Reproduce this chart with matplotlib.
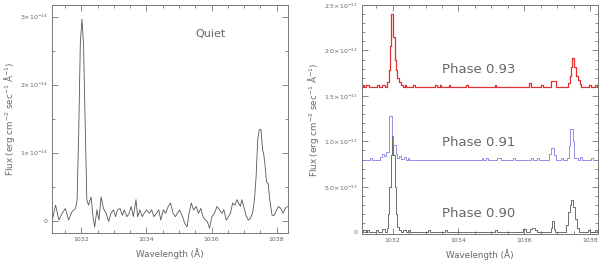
import matplotlib
matplotlib.use('Agg')
import matplotlib.pyplot as plt
from matplotlib.ticker import MultipleLocator

# quiet spectrum, flux in units of 1e-14
quiet_wave = [1031.10, 1031.21, 1031.31, 1031.41, 1031.51, 1031.61, 1031.71, 1031.82, 1031.87, 1031.92,
              1031.97, 1032.02, 1032.07, 1032.12, 1032.17, 1032.22, 1032.30, 1032.36, 1032.41, 1032.48,
              1032.54, 1032.61, 1032.68, 1032.76, 1032.84, 1032.91, 1032.99, 1033.05, 1033.11, 1033.19,
              1033.26, 1033.32, 1033.40, 1033.47, 1033.53, 1033.60, 1033.68, 1033.73, 1033.80, 1033.87,
              1033.93, 1034.01, 1034.08, 1034.16, 1034.23, 1034.31, 1034.38, 1034.44, 1034.52, 1034.59,
              1034.67, 1034.74, 1034.82, 1034.89, 1034.95, 1035.02, 1035.11, 1035.18, 1035.25, 1035.31,
              1035.38, 1035.45, 1035.53, 1035.60, 1035.67, 1035.74, 1035.81, 1035.87, 1035.94, 1036.01,
              1036.09, 1036.17, 1036.25, 1036.32, 1036.38, 1036.45, 1036.52, 1036.58, 1036.65, 1036.72,
              1036.78, 1036.83, 1036.89, 1036.93, 1036.99, 1037.06, 1037.13, 1037.19, 1037.26, 1037.32,
              1037.37, 1037.42, 1037.47, 1037.52, 1037.57, 1037.60, 1037.64, 1037.69, 1037.74, 1037.79,
              1037.86, 1037.93, 1038.00, 1038.06, 1038.13, 1038.20, 1038.26, 1038.33]
quiet_flux = [-0.01, 0.23, 0.01, 0.11, 0.18, 0.01, 0.13, 0.18, 0.30, 1.29,
              2.62, 2.96, 2.57, 1.39, 0.31, 0.23, 0.35, 0.06, -0.09, 0.16,
              0.01, 0.35, 0.18, 0.11, -0.01, 0.11, 0.16, 0.06, 0.16, 0.18,
              0.08, 0.16, 0.06, 0.11, 0.21, 0.06, 0.31, 0.06, 0.16, 0.06,
              0.11, 0.16, 0.11, 0.16, 0.06, 0.11, 0.16, 0.01, 0.16, 0.11,
              0.21, 0.26, 0.11, 0.06, 0.11, 0.16, 0.06, -0.04, -0.09, 0.11,
              0.26, 0.16, 0.21, 0.11, 0.18, 0.06, 0.01, -0.01, -0.11, 0.06,
              0.11, 0.21, 0.16, 0.11, 0.16, 0.01, 0.06, 0.11, 0.26, 0.23,
              0.31, 0.26, 0.21, 0.31, 0.21, 0.08, 0.01, 0.03, 0.11, 0.31,
              0.65, 1.19, 1.34, 1.34, 1.04, 0.99, 0.84, 0.57, 0.55, 0.31,
              0.08, 0.08, 0.16, 0.21, 0.18, 0.11, 0.18, 0.21]

# flare phases, bin edges (steps-post), flux in units of 1e-12
p90_wave = [1031.06, 1031.10, 1031.18, 1031.22, 1031.28, 1031.50, 1031.56, 1031.68, 1031.76, 1031.82,
            1031.86, 1031.90, 1031.94, 1031.98, 1032.02, 1032.06, 1032.10, 1032.14, 1032.20, 1032.26,
            1032.32, 1032.40, 1032.46, 1032.52, 1033.06, 1033.14, 1033.58, 1033.64, 1035.10, 1035.16,
            1035.96, 1036.04, 1036.18, 1036.24, 1036.34, 1036.40, 1036.80, 1036.84, 1036.90, 1036.94,
            1037.26, 1037.32, 1037.38, 1037.42, 1037.48, 1037.54, 1037.60, 1037.66, 1037.94, 1038.00,
            1038.16, 1038.22, 1038.30]
p90_flux = [0.0, 0.02, 0.0, 0.02, 0.0, 0.03, 0.0, 0.04, 0.0, 0.05,
            0.2, 0.5, 0.85, 1.06, 0.85, 0.5, 0.2, 0.06, 0.03, 0.0,
            0.02, 0.0, 0.02, 0.0, 0.02, 0.0, 0.02, 0.0, 0.02, 0.0,
            0.04, 0.0, 0.04, 0.05, 0.03, 0.0, 0.05, 0.12, 0.04, 0.0,
            0.08, 0.22, 0.30, 0.35, 0.28, 0.15, 0.05, 0.0, 0.02, 0.0,
            0.03, 0.0, 0.0]

p91_wave = [1031.06, 1031.30, 1031.38, 1031.60, 1031.66, 1031.74, 1031.80, 1031.88, 1031.99, 1032.02,
            1032.10, 1032.14, 1032.20, 1032.26, 1032.34, 1032.40, 1032.46, 1032.50, 1034.70, 1034.76,
            1034.84, 1034.90, 1035.16, 1035.30, 1035.66, 1035.72, 1036.20, 1036.26, 1036.40, 1036.46,
            1036.74, 1036.80, 1036.90, 1036.96, 1037.12, 1037.18, 1037.30, 1037.36, 1037.40, 1037.48,
            1037.52, 1037.62, 1037.70, 1037.76, 1038.04, 1038.10, 1038.30]
p91_flux = [0.80, 0.82, 0.80, 0.83, 0.86, 0.84, 0.88, 1.28, 1.05, 0.96,
            0.86, 0.82, 0.84, 0.81, 0.83, 0.80, 0.82, 0.80, 0.82, 0.80,
            0.82, 0.80, 0.82, 0.80, 0.82, 0.80, 0.82, 0.80, 0.82, 0.80,
            0.86, 0.93, 0.85, 0.80, 0.82, 0.80, 0.82, 0.95, 1.14, 1.00,
            0.82, 0.80, 0.83, 0.80, 0.82, 0.80, 0.80]

p93_wave = [1031.06, 1031.09, 1031.13, 1031.20, 1031.28, 1031.52, 1031.58, 1031.66, 1031.76, 1031.84,
            1031.88, 1031.92, 1031.96, 1032.02, 1032.06, 1032.10, 1032.14, 1032.18, 1032.24, 1032.30,
            1032.36, 1032.40, 1032.62, 1032.68, 1033.30, 1033.34, 1033.44, 1033.48, 1033.70, 1033.74,
            1034.24, 1034.28, 1035.10, 1035.14, 1036.14, 1036.22, 1036.52, 1036.58, 1036.80, 1036.96,
            1037.34, 1037.38, 1037.42, 1037.46, 1037.52, 1037.56, 1037.62, 1037.68, 1037.74, 1037.98,
            1038.04, 1038.16, 1038.22, 1038.30]
p93_flux = [1.60, 1.62, 1.60, 1.62, 1.60, 1.62, 1.60, 1.62, 1.60, 1.65,
            1.78, 2.05, 2.40, 2.15, 1.90, 1.78, 1.70, 1.65, 1.62, 1.60,
            1.62, 1.60, 1.62, 1.60, 1.62, 1.60, 1.62, 1.60, 1.62, 1.60,
            1.62, 1.60, 1.62, 1.60, 1.64, 1.60, 1.62, 1.60, 1.66, 1.60,
            1.64, 1.72, 1.82, 1.92, 1.82, 1.72, 1.68, 1.63, 1.60, 1.62,
            1.60, 1.62, 1.60, 1.60]

x_ticks = [1032, 1034, 1036, 1038]
left_yticks = [0, 1, 2, 3]
left_ylabels = ['0', r'$1{\times}10^{-14}$', r'$2{\times}10^{-14}$', r'$3{\times}10^{-14}$']
right_yticks = [0, 0.5, 1.0, 1.5, 2.0, 2.5]
right_ylabels = ['0', r'$5.0{\times}10^{-13}$', r'$1.0{\times}10^{-12}$', r'$1.5{\times}10^{-12}$',
                 r'$2.0{\times}10^{-12}$', r'$2.5{\times}10^{-12}$']

txt = '#666666'
plt.rcParams['mathtext.fontset'] = 'dejavusans'


def style_axes(ax, ylocminor, ylab_x):
    for s in ax.spines.values():
        s.set_color('#777777')
        s.set_linewidth(0.7)
    ax.xaxis.set_minor_locator(MultipleLocator(0.5))
    ax.yaxis.set_minor_locator(MultipleLocator(ylocminor))
    ax.tick_params(which='both', direction='in', top=True, right=True, colors='#777777',
                   labelcolor=txt, labelsize=4.5, width=0.6)
    ax.tick_params(which='major', length=4, pad=3)
    ax.tick_params(which='minor', length=2)
    ax.set_xticks(x_ticks)
    ax.set_xticklabels([str(t) for t in x_ticks])
    ax.set_xlabel('Wavelength (Å)', color=txt, fontsize=6.3, labelpad=4)
    ax.set_ylabel(r'Flux (erg cm$^{-2}$ sec$^{-1}$ Å$^{-1}$)', color=txt, fontsize=6.3)
    ax.yaxis.set_label_coords(ylab_x, 0.5)


fig = plt.figure(figsize=(6, 2.63), dpi=100)

ax1 = fig.add_axes([0.0867, 0.114, 0.3933, 0.867])
ax1.plot(quiet_wave, quiet_flux, color='#555555', lw=0.6)
ax1.set_xlim(1031.1, 1038.35)
ax1.set_ylim(-0.18, 3.17)
style_axes(ax1, 0.5, -0.148)
ax1.set_yticks(left_yticks)
ax1.set_yticklabels(left_ylabels)
ax1.text(1035.5, 2.75, 'Quiet', color=txt, fontsize=8, va='center')

ax2 = fig.add_axes([0.603, 0.110, 0.393, 0.871])
ax2.plot(p90_wave, p90_flux, color='#555555', lw=0.6, drawstyle='steps-post')
ax2.plot(p91_wave, p91_flux, color='#8080e0', lw=0.6, drawstyle='steps-post')
ax2.plot(p93_wave, p93_flux, color='#e03030', lw=0.9, drawstyle='steps-post')
ax2.set_xlim(1031.06, 1038.23)
ax2.set_ylim(-0.02, 2.5)
style_axes(ax2, 0.1, -0.175)
ax2.set_yticks(right_yticks)
ax2.set_yticklabels(right_ylabels)
ax2.text(1033.49, 1.79, 'Phase 0.93', color=txt, fontsize=9.5, va='center')
ax2.text(1033.49, 0.99, 'Phase 0.91', color=txt, fontsize=9.5, va='center')
ax2.text(1033.49, 0.21, 'Phase 0.90', color=txt, fontsize=9.5, va='center')

fig.savefig('out.png', dpi=100)
